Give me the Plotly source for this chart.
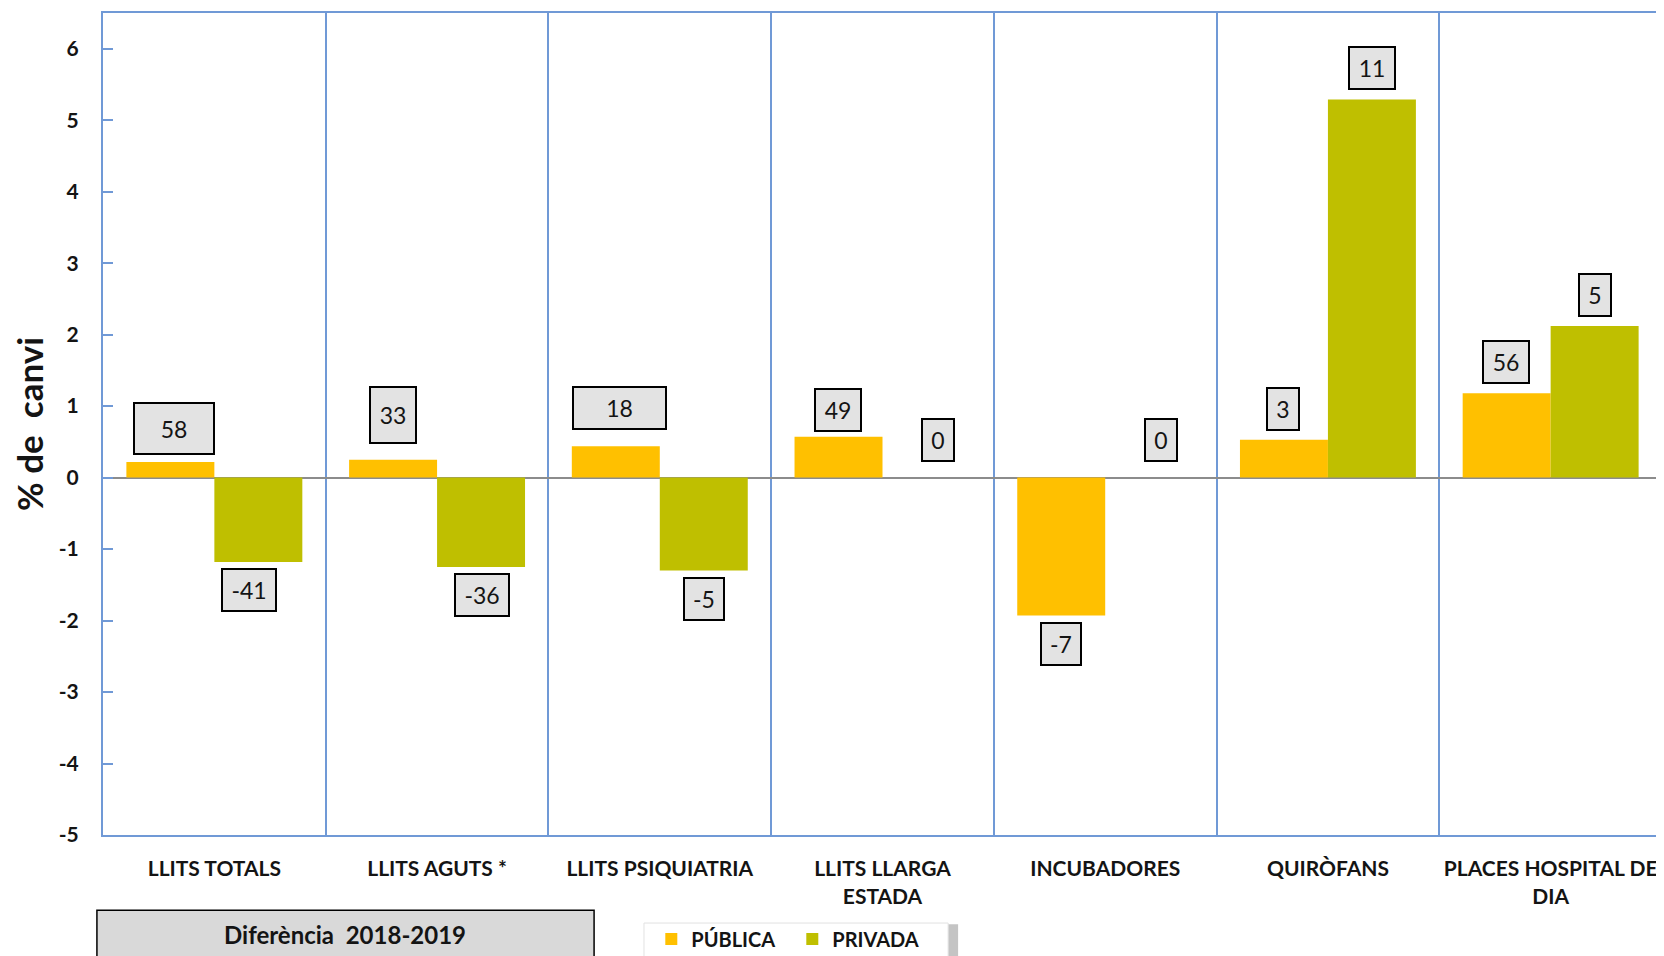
import plotly.graph_objects as go

categories = ["LLITS TOTALS", "LLITS AGUTS *", "LLITS PSIQUIATRIA", "LLITS LLARGA<br>ESTADA",
              "INCUBADORES", "QUIRÒFANS", "PLACES HOSPITAL DE<br>DIA"]
publica = [0.22, 0.25, 0.44, 0.57, -1.93, 0.53, 1.18]
privada = [-1.18, -1.25, -1.30, 0.0, 0.0, 5.29, 2.12]
labels_publica = ["58", "33", "18", "49", "-7", "3", "56"]
labels_privada = ["-41", "-36", "-5", "0", "0", "11", "5"]
y_ticks = [-5, -4, -3, -2, -1, 0, 1, 2, 3, 4, 5, 6]
y_ticktext = ["-5", "-4", "-3", "-2", "-1", "0", "1", "2", "3", "4", "5", "6"]

FONT = "Lato"
TXT = "#141414"
BLUE = "#7099D6"
ORANGE = "#FFC000"
GREEN = "#BFBF00"

# page body has an 8px margin: figure is shrunk by 8px so the plot lands where intended
W, H = 1656, 948
L, T, R, B = 95, 5, 2, 121

fig = go.Figure()
fig.add_trace(go.Bar(name="PÚBLICA", x=categories, y=publica, marker_color=ORANGE,
                     marker_line_width=0))
fig.add_trace(go.Bar(name="PRIVADA", x=categories, y=privada, marker_color=GREEN,
                     marker_line_width=0))

# manual label-box tweaks (series, category)
box_style = {
    (0, 0): dict(width=66, height=37, yshift=7, xshift=4),
    (0, 1): dict(height=42, yshift=16),
    (0, 2): dict(width=79, yshift=16, xshift=4),
    (0, 3): dict(yshift=5),
    (1, 0): dict(xshift=-10),
}
def default_width(txt):
    if txt.startswith("-"):
        return 40 if len(txt) == 3 else 26
    return 18 if len(txt) == 1 else 32

annotations = []
for s, (vals, labs) in enumerate([(publica, labels_publica), (privada, labels_privada)]):
    for i, (v, lab) in enumerate(zip(vals, labs)):
        off = -0.2 if s == 0 else 0.2
        neg = v < 0
        st = box_style.get((s, i), {})
        annotations.append(dict(
            x=i + off, y=v, xref="x", yref="y", text=lab, showarrow=False,
            yanchor="top" if neg else "bottom",
            yshift=-st.get("yshift", 6) if neg else st.get("yshift", 16 if v == 0 else 9),
            xshift=st.get("xshift", 11 if v == 0 else 0),
            font=dict(family=FONT, size=23, color=TXT),
            bgcolor="#E3E3E3", bordercolor="#000000", borderwidth=2, borderpad=6,
            width=st.get("width", default_width(lab)),
            height=st.get("height", None),
        ))

annotations.append(dict(x=-0.0475, y=0.5, xref="paper", yref="paper",
                        text="%\u00a0de\u00a0\u00a0canvi",
                        textangle=-90, showarrow=False, xanchor="center", yanchor="middle",
                        font=dict(family=FONT, size=35, color=TXT, weight="bold")))
annotations.append(dict(x=0.155, y=-0.1207, xref="paper", yref="paper",
                        text="Diferència\u00a0\u00a02018-2019", showarrow=False,
                        xanchor="center", yanchor="middle",
                        font=dict(family=FONT, size=24, color=TXT, weight="bold")))

shapes = [
    # "Diferència" box
    dict(type="rect", xref="paper", yref="paper", x0=-0.0039, x1=0.315, y0=-0.0915, y1=-0.16,
         fillcolor="#D9D9D9", line=dict(color="#000000", width=1.5), layer="above"),
    # legend shadow + background
    dict(type="rect", xref="paper", yref="paper", x0=0.351, x1=0.5485, y0=-0.1085, y1=-0.16,
         fillcolor="#C4C4C4", line=dict(width=0), layer="above"),
    dict(type="rect", xref="paper", yref="paper", x0=0.347, x1=0.5421, y0=-0.1071, y1=-0.16,
         fillcolor="#FFFFFF", line=dict(color="#E2E2E2", width=1), layer="above"),
    # right border
    dict(type="line", xref="paper", yref="paper", x0=1, x1=1, y0=0, y1=1,
         line=dict(color="#A6A6A6", width=2), layer="above"),
]

fig.update_layout(
    width=W, height=H,
    margin=dict(l=L, r=R, t=T, b=B, autoexpand=False),
    paper_bgcolor="white", plot_bgcolor="white",
    barmode="group", bargap=0.21, bargroupgap=0,
    font=dict(family=FONT, color=TXT),
    showlegend=True,
    legend=dict(orientation="h", x=0.3517, y=-0.1029, xanchor="left", yanchor="top",
                bgcolor="rgba(0,0,0,0)", borderwidth=0,
                font=dict(family=FONT, size=20, color=TXT, weight="bold"),
                entrywidth=96, tracegroupgap=0),
    annotations=annotations,
    shapes=shapes,
)
fig.update_xaxes(
    type="category", tickson="boundaries", showgrid=True, gridcolor=BLUE, gridwidth=1.5,
    showline=True, linecolor=BLUE, linewidth=2, mirror=True, ticks="",
    ticklabelstandoff=14, automargin=False,
    tickfont=dict(family=FONT, size=21, color=TXT, weight="bold"),
    range=[-0.5, 6.5],
)
fig.update_yaxes(
    range=[-5, 6.5], tickvals=y_ticks, ticktext=y_ticktext, showgrid=False,
    showline=True, linecolor=BLUE, linewidth=2,
    ticks="inside", ticklen=10, tickcolor=BLUE, tickwidth=1.5,
    ticklabelstandoff=18, automargin=False,
    zeroline=True, zerolinecolor="#8C8C8C", zerolinewidth=2,
    tickfont=dict(family=FONT, size=21, color=TXT, weight="bold"),
)

fig.write_html("out.html")
